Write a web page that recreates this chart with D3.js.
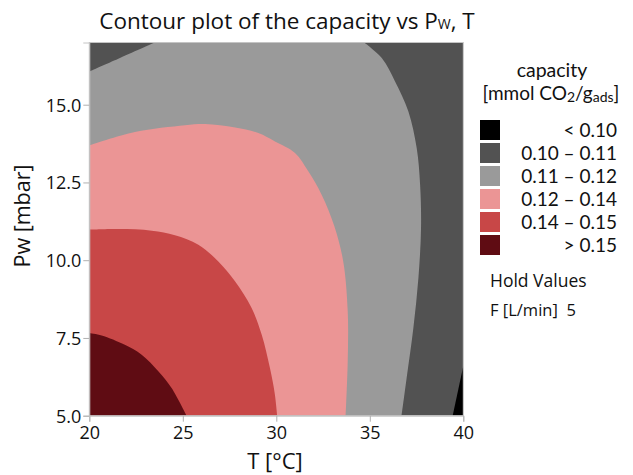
<!DOCTYPE html>
<html>
<head>
<meta charset="utf-8">
<script src="https://cdn.jsdelivr.net/npm/d3@7"></script>
<style>
  html, body { margin: 0; padding: 0; background: #fff; }
  svg { display: block; font-family: "Open Sans", "Noto Sans", sans-serif; }
</style>
</head>
<body>
<svg id="chart" width="633" height="475"></svg>
<script>
// Capacity bands (mmol CO2 / g_ads), lowest to highest
const bandLabels = ["< 0.10", "0.10 \u2013 0.11", "0.11 \u2013 0.12", "0.12 \u2013 0.14", "0.14 \u2013 0.15", "> 0.15"];
const bandColors = ["#000000", "#525252", "#9a9a9a", "#eb9595", "#c84747", "#5f0c13"];

// Axis ranges and ticks
const tDomain = [20, 40];
const pDomain = [5, 17];
const tTicks = [20, 25, 30, 35, 40];
const pTicks = [5, 7.5, 10, 12.5, 15];

// Contour lines as [T (°C), Pw (mbar)] points
const contour010 = [[39.43, 5], [40, 6.6]];
const contour011Left = [[20, 16.07], [21.55, 16.48], [23.5, 17]];
const contour011Right = [[34.7, 17], [35.64, 16.5], [36.35, 15.75], [37.06, 14.79], [37.51, 13.6],
  [37.69, 12.43], [37.74, 11.04], [37.6, 9.43], [37.33, 7.82], [36.97, 6.21], [36.7, 5]];
const contour012 = [[20, 13.69], [22.44, 14.12], [25.12, 14.34], [26.19, 14.38], [27.8, 14.27],
  [29.04, 14.09], [29.93, 13.82], [31.0, 13.45], [31.71, 12.86], [32.43, 12.1], [33.1, 11.1],
  [33.58, 9.96], [33.82, 8.36], [33.82, 6.75], [33.71, 5]];
const contour014 = [[20, 10.98], [21.55, 11.0], [23.34, 10.95], [24.58, 10.8], [25.83, 10.5],
  [26.9, 9.96], [27.79, 9.32], [28.68, 8.46], [29.22, 7.6], [29.66, 6.53], [29.92, 5.7], [30.05, 5]];
const contour015 = [[20, 7.66], [20.66, 7.58], [21.9, 7.28], [22.8, 6.96], [23.69, 6.43],
  [24.4, 5.89], [25.2, 5]];

const holdLabel = "F [L/min]";
const holdValue = 5;

const svg = d3.select("#chart");
const plot = { left: 89.3, right: 463.3, top: 42.5, bottom: 415.7 };

const x = d3.scaleLinear().domain(tDomain).range([plot.left, plot.right]);
const y = d3.scaleLinear().domain(pDomain).range([plot.bottom, plot.top]);

const curve = d3.line().x(d => x(d[0])).y(d => y(d[1])).curve(d3.curveCatmullRom.alpha(0.5));
const straight = d3.line().x(d => x(d[0])).y(d => y(d[1]));
const cont = s => s.replace(/^M/, "L");

svg.append("clipPath").attr("id", "plotClip")
  .append("rect")
  .attr("x", plot.left).attr("y", plot.top)
  .attr("width", plot.right - plot.left).attr("height", plot.bottom - plot.top);

const g = svg.append("g").attr("clip-path", "url(#plotClip)");

// Base band covering the whole plot
g.append("rect")
  .attr("x", plot.left).attr("y", plot.top)
  .attr("width", plot.right - plot.left).attr("height", plot.bottom - plot.top)
  .attr("fill", bandColors[1]);

// 0.11 – 0.12 region
g.append("path")
  .attr("d", curve(contour011Left) +
    cont(straight([contour011Left[contour011Left.length - 1], contour011Right[0]])) +
    cont(curve(contour011Right)) +
    cont(straight([[tDomain[0], pDomain[0]]])) + "Z")
  .attr("fill", bandColors[2]);

// Nested regions anchored at the lower-left corner
[[contour012, 3], [contour014, 4], [contour015, 5]].forEach(([pts, ci]) => {
  g.append("path")
    .attr("d", curve(pts) + cont(straight([[tDomain[0], pDomain[0]]])) + "Z")
    .attr("fill", bandColors[ci]);
});

// Below 0.10, lower-right corner
g.append("path")
  .attr("d", straight(contour010) + cont(straight([[tDomain[1], pDomain[0]]])) + "Z")
  .attr("fill", bandColors[0]);

// Frame
svg.append("rect")
  .attr("x", plot.left).attr("y", plot.top)
  .attr("width", plot.right - plot.left).attr("height", plot.bottom - plot.top)
  .attr("fill", "none").attr("stroke", "#c4c4c4").attr("stroke-width", 1);

// Axes
const xAxis = svg.append("g")
  .attr("transform", `translate(0,${plot.bottom})`)
  .call(d3.axisBottom(x).tickValues(tTicks).tickSize(6).tickPadding(2).tickFormat(d3.format("d")));
const yAxis = svg.append("g")
  .attr("transform", `translate(${plot.left},0)`)
  .call(d3.axisLeft(y).tickValues(pTicks).tickSize(6).tickPadding(2).tickFormat(d3.format(".1f")));

[xAxis, yAxis].forEach(a => {
  a.select(".domain").attr("stroke", "#c4c4c4");
  a.selectAll(".tick line").attr("stroke", "#b0b0b0");
  a.selectAll(".tick text").attr("fill", "#111").style("font-size", "18px")
    .style("font-family", "'Open Sans', sans-serif");
});
xAxis.selectAll(".tick text").attr("dy", "0.85em");
yAxis.selectAll(".tick text").attr("dy", "0.36em");

// Title
const title = svg.append("text")
  .attr("x", 287).attr("y", 29)
  .attr("text-anchor", "middle")
  .attr("fill", "#111")
  .style("font-size", "22.5px");
title.append("tspan").text("Contour plot of the capacity vs P");
title.append("tspan").text("W").style("font-size", "14px");
title.append("tspan").text(", T");

// Axis titles
svg.append("text")
  .attr("x", 275).attr("y", 469)
  .attr("text-anchor", "middle").attr("fill", "#111")
  .style("font-size", "22px")
  .text("T [\u00b0C]");

svg.append("text")
  .attr("transform", "translate(30,216) rotate(-90)")
  .attr("text-anchor", "middle").attr("fill", "#111")
  .style("font-size", "21.5px")
  .text("Pw [mbar]");

// Legend
const legendFont = "Lato, 'Open Sans', sans-serif";
const lg = svg.append("g");
lg.append("text")
  .attr("x", 552).attr("y", 77)
  .attr("text-anchor", "middle").attr("fill", "#111")
  .style("font-family", legendFont)
  .style("font-size", "19.5px")
  .text("capacity");
const lt = lg.append("text")
  .attr("x", 551).attr("y", 100)
  .attr("text-anchor", "middle").attr("fill", "#111")
  .style("font-family", legendFont)
  .style("font-size", "19px");
lt.append("tspan").text("[mmol CO");
lt.append("tspan").text("2").style("font-size", "14px").attr("dy", 2);
lt.append("tspan").text("/g").attr("dy", -2);
lt.append("tspan").text("ads").style("font-size", "14px").attr("dy", 2);
lt.append("tspan").text("]").attr("dy", -2);

const rowY = d3.scalePoint().domain(d3.range(bandLabels.length)).range([130, 245]);
bandLabels.forEach((lab, i) => {
  lg.append("rect")
    .attr("x", 480).attr("y", rowY(i) - 10)
    .attr("width", 20).attr("height", 20)
    .attr("fill", bandColors[i]);
  lg.append("text")
    .attr("x", 617).attr("y", rowY(i))
    .attr("dy", "0.36em")
    .attr("text-anchor", "end").attr("fill", "#111")
    .style("font-family", legendFont)
    .style("font-size", "19px")
    .text(lab);
});

lg.append("text")
  .attr("x", 490).attr("y", 287)
  .attr("fill", "#111").style("font-size", "17.5px")
  .text("Hold Values");
lg.append("text")
  .attr("x", 490).attr("y", 316)
  .attr("fill", "#111").style("font-size", "16.5px")
  .attr("xml:space", "preserve")
  .text(holdLabel + "  " + holdValue);
</script>
</body>
</html>
